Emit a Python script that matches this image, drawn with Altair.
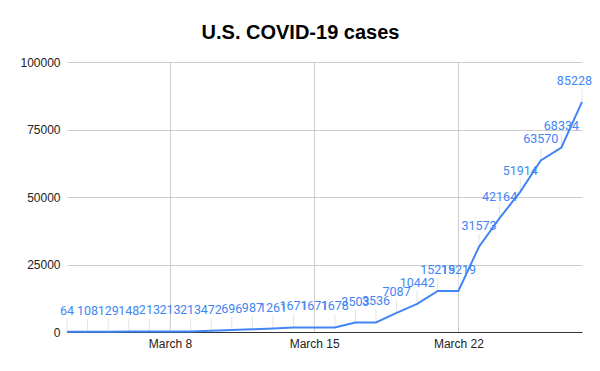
import altair as alt
import pandas as pd

month = "March"
days = list(range(3, 29))
cases = [64, 108, 129, 148, 213, 213, 213, 472, 696, 987, 1261, 1671, 1671, 1678,
         3503, 3536, 7087, 10442, 15219, 15219, 31573, 42164, 51914, 63570, 68334, 85228]
x_ticks = [8, 15, 22]
y_ticks = [0, 25000, 50000, 75000, 100000]

df = pd.DataFrame({"day": days, "cases": cases})
last_day = days[-1]

blue = "#4285F4"
xs = alt.Scale(domain=[3, 28], nice=False, zero=False)
ys = alt.Scale(domain=[0, 100000], nice=False)

base = alt.Chart(df)

line = base.mark_line(color=blue, strokeWidth=2).encode(
    x=alt.X("day:Q", scale=xs, title=None,
            axis=alt.Axis(values=x_ticks, labelExpr=f"'{month} ' + datum.value",
                          grid=True, gridColor="#cccccc", ticks=False,
                          domainColor="#333333", labelFontSize=12, labelColor="#222222",
                          labelFont="Liberation Sans", labelPadding=6)),
    y=alt.Y("cases:Q", scale=ys, title=None,
            axis=alt.Axis(values=y_ticks, format="d", grid=True, gridColor="#cccccc",
                          domain=False, ticks=False, labelFontSize=12,
                          labelColor="#222222", labelFont="Liberation Sans",
                          labelPadding=7)),
)

leaders = base.mark_rule(color="#e3e3e3", strokeWidth=1, y2Offset=-13).encode(
    x="day:Q", y=alt.Y("cases:Q", scale=ys), y2="cases:Q"
)

labels = base.transform_filter(alt.datum.day < last_day).mark_text(
    color=blue, fontSize=12.5, font="Roboto", dy=-21).encode(
    x="day:Q", y=alt.Y("cases:Q", scale=ys), text="cases:Q"
)

last_label = base.transform_filter(alt.datum.day == last_day).mark_text(
    color=blue, fontSize=12.5, font="Roboto", dy=-21, dx=10, align="right").encode(
    x="day:Q", y=alt.Y("cases:Q", scale=ys), text="cases:Q"
)

chart = alt.layer(leaders, line, labels, last_label).properties(
    width=515, height=270,
    padding={"left": 59, "top": 54, "right": 10, "bottom": 20},
    autosize=alt.AutoSizeParams(type="none"),
    title=alt.TitleParams("U.S. COVID-19 cases", fontSize=20, font="Liberation Sans",
                          fontWeight="bold", color="#000000", offset=13, dx=-24),
).configure_view(stroke=None)

chart.save("out.html", embed_options={"renderer": "svg", "actions": False})
